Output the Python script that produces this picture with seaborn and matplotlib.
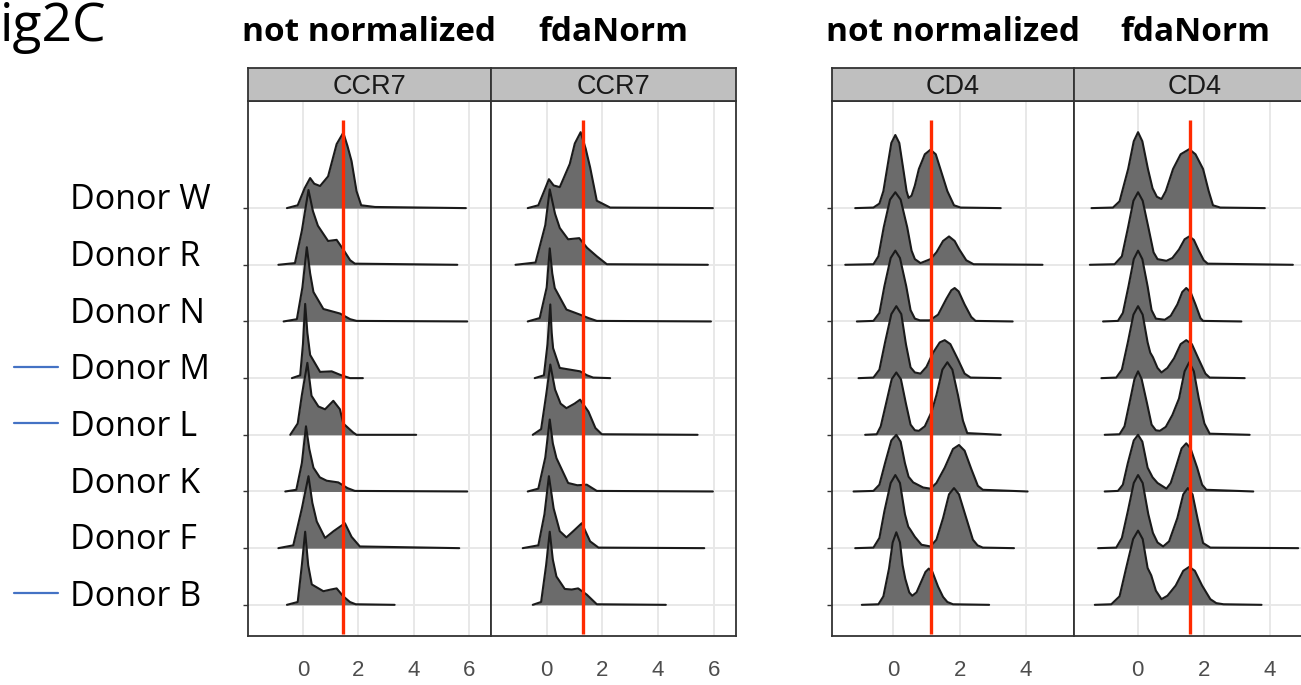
import numpy as np
import pandas as pd
import matplotlib.pyplot as plt
import matplotlib.transforms as mtransforms
import seaborn as sns

# rows from bottom to top, as they sit in the figure
donors = ["Donor B", "Donor F", "Donor K", "Donor L", "Donor M", "Donor N", "Donor R", "Donor W"]
flagged = ["Donor M", "Donor L", "Donor B"]

groups = ["not normalized", "fdaNorm", "not normalized", "fdaNorm"]
markers = ["CCR7", "CCR7", "CD4", "CD4"]
ref_line = [1.44, 1.30, 1.15, 1.58]

# ridge outlines: (x, height in row units)
ccr7_raw = {
    "Donor W": [(-0.59, 0), (-0.2, 0.05), (0.05, 0.35), (0.25, 0.53), (0.4, 0.43), (0.61, 0.39), (0.9, 0.56),
                (1.21, 1.13), (1.45, 1.33), (1.6, 1.1), (1.75, 0.83), (1.93, 0.3), (2.1, 0.05), (2.6, 0.02), (5.89, 0)],
    "Donor R": [(-0.9, 0), (-0.3, 0.03), (-0.05, 0.6), (0.19, 1.32), (0.35, 0.95), (0.53, 0.69), (0.9, 0.42),
                (1.21, 0.44), (1.45, 0.27), (1.7, 0.08), (1.87, 0.02), (5.58, 0)],
    "Donor N": [(-0.71, 0), (-0.23, 0.04), (-0.03, 0.6), (0.13, 1.31), (0.25, 0.85), (0.37, 0.52), (0.73, 0.22),
                (1.33, 0.14), (1.7, 0.04), (1.93, 0.01), (5.94, 0)],
    "Donor M": [(-0.41, 0), (-0.11, 0.05), (-0.01, 0.6), (0.07, 1.31), (0.15, 0.8), (0.25, 0.41), (0.61, 0.11),
                (1.03, 0.12), (1.33, 0.06), (1.69, 0.0), (2.16, 0)],
    "Donor L": [(-0.47, 0), (-0.2, 0.2), (-0.05, 0.7), (0.15, 1.27), (0.3, 0.69), (0.55, 0.5), (0.79, 0.45),
                (1.09, 0.6), (1.33, 0.45), (1.45, 0.2), (1.81, 0.04), (1.93, 0), (4.09, 0)],
    "Donor K": [(-0.65, 0), (-0.25, 0.03), (-0.05, 0.5), (0.1, 1.15), (0.22, 0.75), (0.37, 0.42), (0.6, 0.25),
                (0.85, 0.19), (1.27, 0.16), (1.6, 0.06), (1.87, 0.01), (5.94, 0)],
    "Donor F": [(-0.9, 0), (-0.36, 0.05), (-0.05, 0.7), (0.19, 1.27), (0.33, 0.8), (0.49, 0.47), (0.79, 0.18),
                (1.1, 0.3), (1.51, 0.44), (1.75, 0.2), (2.05, 0.03), (5.65, 0)],
    "Donor B": [(-0.59, 0), (-0.2, 0.05), (-0.05, 0.7), (0.07, 1.29), (0.18, 0.7), (0.31, 0.36), (0.73, 0.24),
                (1.0, 0.27), (1.21, 0.29), (1.45, 0.15), (1.69, 0.05), (1.9, 0.01), (3.31, 0)],
}

ccr7_fda = {
    "Donor W": [(-0.68, 0), (-0.3, 0.05), (-0.05, 0.35), (0.08, 0.51), (0.25, 0.4), (0.47, 0.37), (0.83, 0.78),
                (1.01, 1.14), (1.22, 1.34), (1.4, 1.05), (1.56, 0.72), (1.8, 0.13), (2.28, 0.01), (5.97, 0)],
    "Donor R": [(-1.12, 0), (-0.4, 0.04), (-0.05, 0.7), (0.11, 1.33), (0.3, 0.9), (0.47, 0.65), (0.77, 0.45),
                (1.17, 0.47), (1.45, 0.3), (1.8, 0.15), (2.16, 0.01), (5.79, 0)],
    "Donor N": [(-0.68, 0), (-0.25, 0.06), (0.0, 0.6), (0.11, 1.29), (0.2, 0.85), (0.29, 0.59), (0.71, 0.21),
                (1.2, 0.12), (1.5, 0.06), (1.8, 0.01), (5.9, 0)],
    "Donor M": [(-0.43, 0), (-0.1, 0.05), (0.03, 0.6), (0.13, 1.3), (0.18, 0.8), (0.23, 0.53), (0.47, 0.18),
                (1.2, 0.12), (1.45, 0.05), (1.67, 0.01), (2.28, 0)],
    "Donor L": [(-0.5, 0), (-0.2, 0.1), (-0.02, 0.7), (0.13, 1.24), (0.3, 0.8), (0.5, 0.55), (0.71, 0.47),
                (1.0, 0.55), (1.2, 0.62), (1.5, 0.41), (1.75, 0.12), (1.98, 0.01), (5.42, 0)],
    "Donor K": [(-0.68, 0), (-0.3, 0.05), (-0.05, 0.6), (0.11, 1.27), (0.22, 0.85), (0.35, 0.59), (0.77, 0.15),
                (1.1, 0.11), (1.44, 0.12), (1.8, 0.01), (5.97, 0)],
    "Donor F": [(-0.86, 0), (-0.3, 0.05), (-0.08, 0.6), (0.08, 1.27), (0.25, 0.7), (0.47, 0.3), (0.71, 0.19),
                (1.0, 0.32), (1.26, 0.44), (1.56, 0.12), (1.86, 0.01), (5.66, 0)],
    "Donor B": [(-0.5, 0), (-0.2, 0.05), (-0.02, 0.7), (0.11, 1.29), (0.22, 0.8), (0.35, 0.5), (0.65, 0.28),
                (0.9, 0.27), (1.13, 0.29), (1.44, 0.18), (1.8, 0.01), (4.28, 0)],
}

cd4_raw = {
    "Donor W": [(-1.15, 0), (-0.6, 0.01), (-0.42, 0.08), (-0.3, 0.3), (-0.19, 0.69), (-0.06, 1.15), (0.06, 1.29),
                (0.18, 1.15), (0.31, 0.65), (0.4, 0.3), (0.46, 0.18), (0.55, 0.22), (0.65, 0.4), (0.77, 0.69),
                (0.95, 0.95), (1.12, 1.03), (1.28, 0.95), (1.42, 0.69), (1.63, 0.3), (1.83, 0.05), (2.03, 0.01),
                (3.24, 0)],
    "Donor R": [(-1.45, 0), (-0.6, 0.01), (-0.45, 0.15), (-0.29, 0.66), (-0.1, 1.15), (0.06, 1.28), (0.22, 1.15),
                (0.42, 0.66), (0.55, 0.25), (0.65, 0.1), (0.82, 0.03), (1.12, 0.1), (1.3, 0.22), (1.5, 0.42),
                (1.68, 0.5), (1.85, 0.42), (1.98, 0.28), (2.2, 0.08), (2.42, 0.01), (4.5, 0)],
    "Donor N": [(-1.1, 0), (-0.6, 0.01), (-0.42, 0.15), (-0.27, 0.62), (-0.08, 1.12), (0.06, 1.25), (0.2, 1.12),
                (0.39, 0.62), (0.52, 0.2), (0.65, 0.05), (0.8, 0.02), (1.1, 0.02), (1.35, 0.12), (1.6, 0.4),
                (1.75, 0.55), (1.85, 0.59), (1.97, 0.53), (2.15, 0.3), (2.35, 0.08), (2.48, 0.01), (3.6, 0)],
    "Donor M": [(-1.05, 0), (-0.6, 0.01), (-0.42, 0.15), (-0.25, 0.63), (-0.06, 1.13), (0.09, 1.27), (0.24, 1.13),
                (0.38, 0.6), (0.52, 0.19), (0.65, 0.1), (0.82, 0.08), (1.0, 0.2), (1.2, 0.45), (1.4, 0.63),
                (1.55, 0.67), (1.72, 0.6), (1.95, 0.33), (2.15, 0.08), (2.33, 0.01), (3.24, 0)],
    "Donor L": [(-0.85, 0), (-0.5, 0.01), (-0.38, 0.15), (-0.22, 0.55), (-0.05, 0.98), (0.09, 1.1), (0.23, 0.98),
                (0.38, 0.55), (0.52, 0.18), (0.65, 0.08), (0.77, 0.07), (0.95, 0.15), (1.15, 0.4), (1.3, 0.7),
                (1.48, 1.15), (1.63, 1.28), (1.78, 1.15), (1.95, 0.7), (2.1, 0.25), (2.23, 0.03), (3.24, 0)],
    "Donor K": [(-1.2, 0), (-0.6, 0.01), (-0.42, 0.12), (-0.25, 0.5), (-0.06, 0.9), (0.09, 1.0), (0.22, 0.88),
                (0.35, 0.5), (0.46, 0.26), (0.6, 0.16), (0.9, 0.07), (1.12, 0.05), (1.3, 0.15), (1.55, 0.42),
                (1.8, 0.75), (1.98, 0.82), (2.15, 0.72), (2.35, 0.4), (2.55, 0.1), (2.7, 0.03), (4.05, 0)],
    "Donor F": [(-1.15, 0), (-0.6, 0.01), (-0.42, 0.18), (-0.27, 0.65), (-0.08, 1.15), (0.06, 1.29), (0.2, 1.15),
                (0.35, 0.6), (0.45, 0.38), (0.52, 0.32), (0.65, 0.2), (0.85, 0.06), (1.12, 0.03), (1.3, 0.15),
                (1.5, 0.53), (1.68, 0.95), (1.83, 1.06), (1.98, 0.95), (2.2, 0.53), (2.4, 0.15), (2.54, 0.05),
                (2.7, 0.01), (3.64, 0)],
    "Donor B": [(-0.95, 0), (-0.45, 0.01), (-0.3, 0.15), (-0.13, 0.64), (-0.02, 1.1), (0.09, 1.28), (0.2, 1.1),
                (0.28, 0.7), (0.36, 0.46), (0.48, 0.22), (0.57, 0.16), (0.7, 0.22), (0.85, 0.42), (0.97, 0.58),
                (1.07, 0.64), (1.18, 0.58), (1.35, 0.32), (1.5, 0.14), (1.63, 0.05), (1.8, 0.01), (2.89, 0)],
}

cd4_fda = {
    "Donor W": [(-1.4, 0), (-0.75, 0.01), (-0.55, 0.12), (-0.29, 0.69), (-0.12, 1.18), (0.01, 1.34), (0.14, 1.18),
                (0.31, 0.69), (0.45, 0.35), (0.58, 0.2), (0.72, 0.16), (0.85, 0.3), (1.07, 0.69), (1.3, 0.95),
                (1.56, 1.04), (1.75, 0.95), (1.98, 0.69), (2.15, 0.3), (2.28, 0.05), (2.5, 0.01), (3.85, 0)],
    "Donor R": [(-1.45, 0), (-0.7, 0.01), (-0.48, 0.15), (-0.3, 0.64), (-0.13, 1.13), (0.01, 1.28), (0.15, 1.13),
                (0.33, 0.64), (0.48, 0.22), (0.6, 0.1), (0.87, 0.07), (1.05, 0.12), (1.25, 0.27), (1.42, 0.45),
                (1.56, 0.5), (1.7, 0.44), (1.85, 0.25), (2.0, 0.08), (2.12, 0.02), (4.7, 0)],
    "Donor N": [(-1.05, 0), (-0.6, 0.01), (-0.45, 0.15), (-0.28, 0.62), (-0.12, 1.1), (0.01, 1.25), (0.14, 1.1),
                (0.3, 0.62), (0.42, 0.2), (0.55, 0.05), (0.82, 0.03), (1.0, 0.1), (1.2, 0.3), (1.35, 0.52),
                (1.47, 0.59), (1.6, 0.52), (1.75, 0.3), (1.9, 0.06), (1.98, 0.01), (3.14, 0)],
    "Donor M": [(-1.1, 0), (-0.65, 0.01), (-0.48, 0.15), (-0.3, 0.63), (-0.13, 1.12), (0.01, 1.27), (0.15, 1.12),
                (0.3, 0.63), (0.38, 0.45), (0.46, 0.37), (0.6, 0.18), (0.72, 0.1), (0.9, 0.18), (1.1, 0.35),
                (1.3, 0.6), (1.47, 0.67), (1.64, 0.6), (1.85, 0.33), (2.05, 0.08), (2.18, 0.01), (3.24, 0)],
    "Donor L": [(-1.0, 0), (-0.55, 0.01), (-0.4, 0.15), (-0.25, 0.56), (-0.1, 0.98), (0.01, 1.12), (0.12, 0.98),
                (0.28, 0.56), (0.42, 0.18), (0.55, 0.08), (0.67, 0.07), (0.85, 0.14), (1.05, 0.35), (1.25, 0.64),
                (1.42, 1.12), (1.56, 1.28), (1.7, 1.12), (1.85, 0.64), (2.02, 0.2), (2.18, 0.02), (3.39, 0)],
    "Donor K": [(-1.0, 0), (-0.6, 0.01), (-0.45, 0.12), (-0.3, 0.5), (-0.12, 0.9), (0.01, 1.0), (0.14, 0.88),
                (0.3, 0.42), (0.45, 0.25), (0.6, 0.15), (0.87, 0.05), (1.0, 0.15), (1.15, 0.42), (1.33, 0.76),
                (1.47, 0.85), (1.6, 0.76), (1.8, 0.42), (1.95, 0.12), (2.08, 0.03), (3.5, 0)],
    "Donor F": [(-1.2, 0), (-0.65, 0.01), (-0.48, 0.18), (-0.3, 0.65), (-0.12, 1.15), (0.01, 1.29), (0.15, 1.15),
                (0.32, 0.6), (0.46, 0.27), (0.6, 0.1), (0.77, 0.03), (0.95, 0.12), (1.2, 0.53), (1.38, 0.95),
                (1.52, 1.06), (1.66, 0.95), (1.82, 0.5), (1.98, 0.09), (2.2, 0.01), (4.86, 0)],
    "Donor B": [(-1.3, 0), (-0.8, 0.01), (-0.55, 0.15), (-0.35, 0.65), (-0.14, 1.16), (0.01, 1.31), (0.15, 1.16),
                (0.3, 0.65), (0.41, 0.52), (0.55, 0.25), (0.72, 0.1), (0.9, 0.16), (1.15, 0.34), (1.38, 0.6),
                (1.56, 0.67), (1.73, 0.6), (1.95, 0.34), (2.2, 0.1), (2.38, 0.03), (2.6, 0.01), (3.75, 0)],
}

panels = [ccr7_raw, ccr7_fda, cd4_raw, cd4_fda]

# long table: one row per outline point
rows = []
for p, ridges in enumerate(panels):
    for d, pts in ridges.items():
        for x, h in pts:
            rows.append((p, d, x, h))
df = pd.DataFrame(rows, columns=["panel", "donor", "x", "h"])
df["row"] = df["donor"].map({d: i + 1 for i, d in enumerate(donors)})
df["y"] = df["row"] + df["h"]

sns.set_style("white")

W, H = 1301, 685
fig = plt.figure(figsize=(W / 100, H / 100), dpi=100)

# panel geometry in pixels
lefts = [248, 491, 832, 1074]
widths = [243, 245, 242, 242]
xlims = [(-2.0, 6.8), (-2.0, 6.8), (-1.85, 5.45), (-1.93, 5.4)]
xticks = [[0, 2, 4, 6], [0, 2, 4, 6], [0, 2, 4], [0, 2, 4]]
top, bottom, strip_h = 101, 636, 33
frame = "#333333"

axes = []
for p in range(4):
    ax = fig.add_axes([lefts[p] / W, (H - bottom) / H, widths[p] / W, (bottom - top) / H])
    ax.set_xlim(*xlims[p])
    ax.set_ylim(0.45, 9.89)
    for v in xticks[p]:
        ax.axvline(v, color="#e8e8e8", lw=1.4, zorder=0)
    for r in range(1, 9):
        ax.axhline(r, color="#e8e8e8", lw=1.4, zorder=0)

    sub_p = df[df["panel"] == p]
    # top rows first so the lower ridges sit over them
    for i in reversed(range(len(donors))):
        sub = sub_p[sub_p["donor"] == donors[i]]
        z = 2 + 2 * (7 - i)
        ax.fill_between(sub["x"], sub["row"], sub["y"], color="#6b6b6b", lw=0, zorder=z)
        sns.lineplot(data=sub, x="x", y="y", ax=ax, color="#1a1a1a", lw=1.5,
                     sort=False, estimator=None, zorder=z + 1)

    ax.vlines(ref_line[p], 0.49, 9.55, color="#ff2a00", lw=2.4, zorder=40)

    ax.set_xlabel("")
    ax.set_ylabel("")
    ax.set_xticks(xticks[p])
    ax.set_xticklabels([str(t) for t in xticks[p]], fontsize=16,
                       color="#4d4d4d", family="Liberation Sans")
    ax.tick_params(axis="x", length=7, width=1.3, color=frame, pad=10)
    ax.set_yticks(range(1, 9))
    ax.set_yticklabels([])
    if p in (0, 2):
        ax.tick_params(axis="y", length=3.5, width=1.0, color=frame, left=True)
    else:
        ax.tick_params(axis="y", length=0)
    for s in ax.spines.values():
        s.set_color(frame)
        s.set_linewidth(1.3)
    axes.append(ax)

    # facet strip
    sax = fig.add_axes([lefts[p] / W, (H - top) / H, widths[p] / W, strip_h / H])
    sax.set_facecolor("#bfbfbf")
    sax.set_xticks([])
    sax.set_yticks([])
    for s in sax.spines.values():
        s.set_color(frame)
        s.set_linewidth(1.3)
    sax.text(0.5, 0.42, markers[p], ha="center", va="center", fontsize=19.5,
             color="#1a1a1a", family="Liberation Sans", transform=sax.transAxes)

    # column header
    fig.text((lefts[p] + widths[p] / 2) / W, 1 - 41 / H, groups[p], ha="center", va="baseline",
             fontsize=24, fontweight="bold", family="Open Sans", color="black")

# donor labels and the blue flags on the left
trans = mtransforms.blended_transform_factory(fig.transFigure, axes[0].transData)
for i, d in enumerate(donors):
    axes[0].text(70 / W, i + 1 - 0.02, d, transform=trans, ha="left", va="baseline",
                 fontsize=24.5, family="Open Sans", color="black", clip_on=False)
    if d in flagged:
        axes[0].plot([14 / W, 58 / W], [i + 1.2, i + 1.2], transform=trans,
                     color="#4472c4", lw=1.6, clip_on=False)

fig.text(0, 1 - 41 / H, "ig2C", ha="left", va="baseline", fontsize=38.5,
         family="Open Sans", color="black")

fig.savefig("out.png", dpi=100)
